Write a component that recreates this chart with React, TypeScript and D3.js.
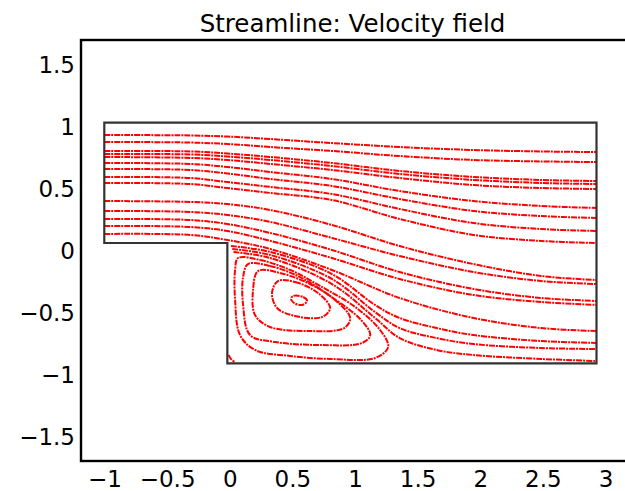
import React from "react";
import * as d3 from "d3";

// axis ticks
const xTicks = [-1, -0.5, 0, 0.5, 1, 1.5, 2, 2.5, 3];
const yTicks = [-1.5, -1, -0.5, 0, 0.5, 1, 1.5];

// domain outline (backward facing step)
const domainOutline: [number, number][] = [
  [-1, 1], [3, 1], [3, -1], [0, -1], [0, 0], [-1, 0],
];

// streamlines coming in through the inlet
const lineL1: [number, number][] = [[-1, 0.898], [-0.3, 0.894], [0, 0.885], [0.35, 0.864], [0.85, 0.831], [1.4, 0.798], [2.0, 0.773], [2.55, 0.761], [3, 0.756]];
const lineL2: [number, number][] = [[-1, 0.84], [-0.3, 0.835], [0, 0.823], [0.35, 0.798], [0.85, 0.765], [1.4, 0.723], [2.0, 0.69], [2.55, 0.678], [3, 0.673]];
const lineL3: [number, number][] = [[-1, 0.765], [-0.3, 0.761], [0, 0.744], [0.35, 0.715], [0.85, 0.665], [1.4, 0.599], [2.0, 0.549], [2.55, 0.524], [3, 0.515]];
const lineL4: [number, number][] = [[-1, 0.74], [-0.3, 0.736], [0, 0.719], [0.35, 0.69], [0.85, 0.64], [1.4, 0.574], [2.0, 0.524], [2.55, 0.499], [3, 0.49]];
const lineL5: [number, number][] = [[-1, 0.715], [-0.3, 0.707], [0, 0.69], [0.35, 0.657], [0.85, 0.607], [1.4, 0.54], [2.0, 0.482], [2.55, 0.457], [3, 0.449]];
const lineL6: [number, number][] = [[-1, 0.665], [-0.3, 0.657], [0, 0.632], [0.35, 0.59], [0.85, 0.532], [1.4, 0.432], [2.0, 0.349], [2.55, 0.308], [3, 0.291]];
const lineL7: [number, number][] = [[-1, 0.615], [-0.3, 0.607], [0, 0.578], [0.35, 0.532], [0.85, 0.474], [1.4, 0.366], [2.0, 0.266], [2.55, 0.224], [3, 0.208]];
const lineL8: [number, number][] = [[-1, 0.549], [-0.3, 0.54], [0, 0.507], [0.35, 0.466], [0.85, 0.407], [1.4, 0.283], [2.0, 0.166], [2.55, 0.116], [3, 0.1]];
const lineL9: [number, number][] = [[-1, 0.499], [-0.3, 0.49], [0, 0.457], [0.35, 0.416], [0.85, 0.357], [1.4, 0.2], [2.0, 0.067], [2.55, 0.017], [3, 0.0]];
const lineM1: [number, number][] = [[-1, 0.349], [-0.3, 0.341], [0, 0.324], [0.35, 0.274], [0.85, 0.15], [1.4, -0.025], [2.0, -0.175], [2.55, -0.274], [3, -0.308]];
const lineM2: [number, number][] = [[-1, 0.266], [-0.3, 0.258], [0, 0.233], [0.35, 0.175], [0.85, 0.042], [1.4, -0.108], [2.0, -0.241], [2.55, -0.316], [3, -0.341]];
const lineM3: [number, number][] = [[-1, 0.2], [-0.3, 0.191], [0, 0.158], [0.35, 0.083], [0.85, -0.058], [1.4, -0.241], [2.0, -0.382], [2.55, -0.457], [3, -0.482]];
const lineM4: [number, number][] = [[-1, 0.141], [-0.3, 0.133], [0, 0.1], [0.35, 0.017], [0.85, -0.125], [1.4, -0.299], [2.0, -0.432], [2.55, -0.49], [3, -0.515]];
const lineM5: [number, number][] = [[-1, 0.075], [-0.3, 0.067], [0, 0.025], [0.35, -0.05], [0.85, -0.224], [1.4, -0.457], [2.0, -0.623], [2.55, -0.707], [3, -0.732]];

// streamlines leaving the step corner
const lineM6: [number, number][] = [[0.03, -0.025], [0.35, -0.075], [0.85, -0.258], [1.2, -0.515], [1.4, -0.623], [1.7, -0.707], [2.0, -0.765], [2.55, -0.815], [3, -0.831]];
const lineM7: [number, number][] = [[0.04, -0.05], [0.35, -0.1], [0.85, -0.299], [1.2, -0.574], [1.4, -0.707], [1.7, -0.79], [2.0, -0.84], [2.55, -0.873], [3, -0.881]];
const lineM8: [number, number][] = [[0.05, -0.075], [0.35, -0.125], [0.85, -0.341], [1.2, -0.623], [1.4, -0.79], [1.7, -0.889], [2.0, -0.931], [2.55, -0.964], [3, -0.981]];
const cornerEddy: [number, number][] = [[0.01, -0.93], [0.03, -0.965], [0.06, -0.99]];

// recirculation loops behind the step
const loopA: [number, number][] = [[0.087, -0.125], [0.266, -0.141], [0.51, -0.224], [0.754, -0.357], [1.039, -0.532], [1.241, -0.723], [1.307, -0.865], [1.201, -0.956], [0.835, -0.964], [0.51, -0.939], [0.225, -0.889], [0.103, -0.765], [0.063, -0.474], [0.063, -0.224]];
const loopB: [number, number][] = [[0.168, -0.175], [0.347, -0.191], [0.591, -0.283], [0.835, -0.441], [1.079, -0.632], [1.161, -0.765], [1.096, -0.831], [0.754, -0.848], [0.388, -0.823], [0.185, -0.765], [0.128, -0.515], [0.128, -0.283]];
const loopC: [number, number][] = [[0.25, -0.233], [0.428, -0.249], [0.672, -0.341], [0.876, -0.474], [0.998, -0.623], [0.95, -0.707], [0.672, -0.732], [0.347, -0.698], [0.225, -0.599], [0.209, -0.391]];
const loopD: [number, number][] = [[0.412, -0.316], [0.55, -0.324], [0.737, -0.416], [0.835, -0.54], [0.77, -0.615], [0.55, -0.607], [0.404, -0.54], [0.363, -0.416]];
const loopE: [number, number][] = [[0.534, -0.441], [0.616, -0.449], [0.648, -0.482], [0.607, -0.515], [0.542, -0.499], [0.518, -0.466]];

const openLines = [lineL1, lineL2, lineL3, lineL4, lineL5, lineL6, lineL7, lineL8, lineL9,
  lineM1, lineM2, lineM3, lineM4, lineM5, lineM6, lineM7, lineM8, cornerEddy];
const loops = [loopA, loopB, loopC, loopD, loopE];

const W = 625, H = 491;
const font = "'DejaVu Sans', sans-serif";

export default function App() {
  // axes frame scale (tick labels)
  const xa = d3.scaleLinear().domain([-1.2, 3.2]).range([80, 631]);
  const ya = d3.scaleLinear().domain([-1.7, 1.7]).range([461, 40]);
  // data scale
  const x = d3.scaleLinear().domain([-1, 3]).range([104.3, 596.5]);
  const y = d3.scaleLinear().domain([-1, 1]).range([363.3, 122.7]);

  const open = d3.line<[number, number]>().x(d => x(d[0])).y(d => y(d[1])).curve(d3.curveCatmullRom);
  const closed = d3.line<[number, number]>().x(d => x(d[0])).y(d => y(d[1])).curve(d3.curveCatmullRomClosed);
  const outline = d3.line<[number, number]>().x(d => x(d[0])).y(d => y(d[1]));

  const streamStyle = {
    fill: "none",
    stroke: "#ff0000",
    strokeWidth: 2,
    strokeDasharray: "6 1 2 1",
  };

  const fmt = (t: number) => (t < 0 ? "\u2212" + Math.abs(t) : String(t));

  return (
    <svg width={W} height={H} style={{ position: "absolute", left: 0, top: 0, background: "#fff" }}>
      <rect x={0} y={0} width={W} height={H} fill="#fff" />
      <text x={352.5} y={31.5} textAnchor="middle" fontFamily={font} fontSize={24.5} fill="#000">
        Streamline: Velocity field
      </text>

      {openLines.map((l, i) => (
        <path key={"l" + i} d={open(l) || ""} style={streamStyle} />
      ))}
      {loops.map((l, i) => (
        <path key={"c" + i} d={closed(l) || ""} style={streamStyle} />
      ))}

      <path d={(outline(domainOutline) || "") + "Z"} fill="none" stroke="#333" strokeWidth={2.2} />

      <rect x={xa(-1.2) + 1} y={ya(1.7)} width={600} height={ya(-1.7) - ya(1.7)} fill="none" stroke="#000" strokeWidth={2.4} />

      {yTicks.map(t => (
        <text key={"y" + t} x={75} y={ya(t)} dy="0.365em" textAnchor="end" fontFamily={font} fontSize={23} fill="#000">
          {fmt(t)}
        </text>
      ))}
      {xTicks.map(t => (
        <text key={"x" + t} x={xa(t)} y={487} textAnchor="middle" fontFamily={font} fontSize={23} fill="#000">
          {fmt(t)}
        </text>
      ))}
    </svg>
  );
}
